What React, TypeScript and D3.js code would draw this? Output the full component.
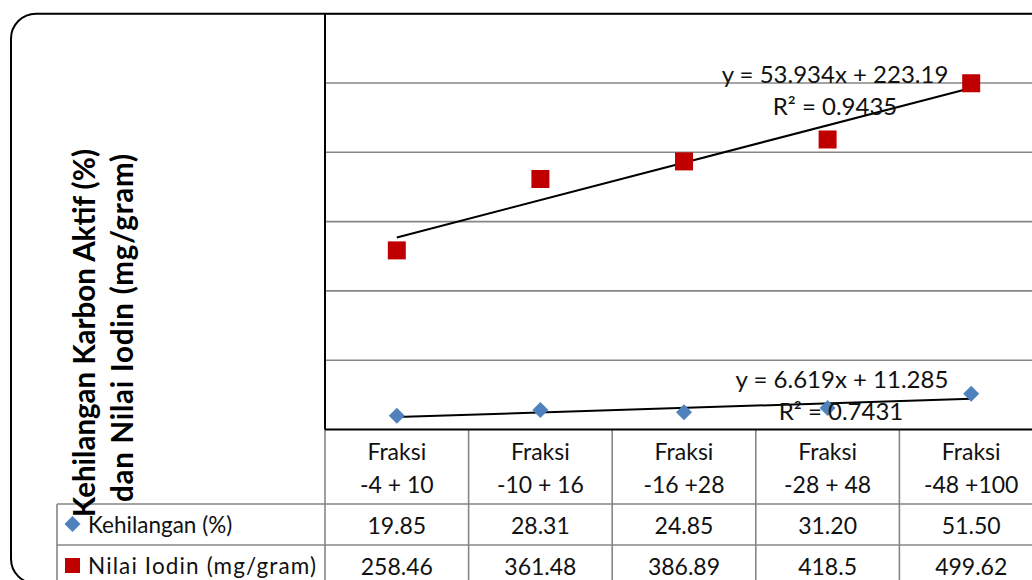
import React from "react";
import * as d3 from "d3";

const categoryTop = ["Fraksi", "Fraksi", "Fraksi", "Fraksi", "Fraksi"];
const categoryBottom = ["-4 + 10", "-10 + 16", "-16 +28", "-28 + 48", "-48 +100"];
const kehilangan = [19.85, 28.31, 24.85, 31.2, 51.5];
const kehilanganLabels = ["19.85", "28.31", "24.85", "31.20", "51.50"];
const iodin = [258.46, 361.48, 386.89, 418.5, 499.62];
const iodinLabels = ["258.46", "361.48", "386.89", "418.5", "499.62"];
const seriesNames = ["Kehilangan (%)", "Nilai Iodin (mg/gram)"];
const yTicks = [0, 100, 200, 300, 400, 500, 600];
const titleLines = ["Kehilangan Karbon Aktif (%)", "dan Nilai Iodin (mg/gram)"];

const W = 1032;
const H = 580;
const FONT = "Lato, 'Open Sans', sans-serif";

function regress(vals: number[]) {
  const xs = vals.map((_, i) => i + 1);
  const mx = d3.mean(xs) as number;
  const my = d3.mean(vals) as number;
  let num = 0, den = 0;
  xs.forEach((x, i) => {
    num += (x - mx) * (vals[i] - my);
    den += (x - mx) * (x - mx);
  });
  const slope = num / den;
  const intercept = my - slope * mx;
  const ssTot = d3.sum(vals, (v) => (v - my) ** 2);
  const ssRes = d3.sum(vals, (v, i) => (v - (slope * xs[i] + intercept)) ** 2);
  return { slope, intercept, r2: 1 - ssRes / ssTot };
}

const diamondPath = (r: number) => `M0,${-r}L${r},0L0,${r}L${-r},0Z`;

export default function App() {
  const plotLeft = 325;
  const band = 143.6;
  const x = d3
    .scaleBand<string>()
    .domain(categoryBottom)
    .range([plotLeft, plotLeft + band * categoryBottom.length])
    .padding(0);
  const y = d3.scaleLinear().domain([0, 600]).range([429.5, 13.7]);
  const cx = (i: number) => (x(categoryBottom[i]) as number) + x.bandwidth() / 2;

  const rI = regress(iodin);
  const rK = regress(kehilangan);
  const trendLine = (r: { slope: number; intercept: number }) =>
    d3.line<number>()
      .x((d) => cx(d - 1))
      .y((d) => y(r.slope * d + r.intercept))([1, 5]) as string;

  const headerTop = y(0);
  const row1Top = 504;
  const row2Top = 545;
  const legendLeft = 57;
  const gridColor = "#868686";
  const colEdges = categoryBottom.map((c) => x(c) as number).concat([x.range()[1]]);

  return (
    <svg
      width={W}
      height={H}
      style={{ position: "absolute", left: 0, top: 0, background: "#fff" }}
      fontFamily={FONT}
    >
      {/* gridlines */}
      {yTicks.slice(1).map((t) => (
        <line key={t} x1={plotLeft} x2={W + 20} y1={y(t)} y2={y(t)} stroke={gridColor} strokeWidth={1.6} />
      ))}

      {/* table lines */}
      {colEdges.slice(1).map((e, i) => (
        <line key={"c" + i} x1={e} x2={e} y1={headerTop} y2={H + 10} stroke={gridColor} strokeWidth={1.6} />
      ))}
      <line x1={plotLeft} x2={plotLeft} y1={headerTop} y2={H + 10} stroke={gridColor} strokeWidth={1.6} />
      <line x1={legendLeft} x2={W + 20} y1={row1Top} y2={row1Top} stroke={gridColor} strokeWidth={1.6} />
      <line x1={legendLeft} x2={W + 20} y1={row2Top} y2={row2Top} stroke={gridColor} strokeWidth={1.6} />
      <line x1={legendLeft} x2={legendLeft} y1={row1Top} y2={H + 10} stroke={gridColor} strokeWidth={1.6} />

      {/* axes */}
      <line x1={plotLeft} x2={plotLeft} y1={y(600)} y2={y(0)} stroke="#000" strokeWidth={2} />
      <line x1={plotLeft} x2={W + 20} y1={y(0)} y2={y(0)} stroke="#000" strokeWidth={2} />

      {/* outer frame */}
      <rect x={11} y={13.7} width={1060} height={570} rx={25} fill="none" stroke="#000" strokeWidth={2} />

      {/* category header */}
      {categoryBottom.map((c, i) => (
        <g key={c} textAnchor="middle" fontSize={23} fill="#111">
          <text x={cx(i)} y={460}>{categoryTop[i]}</text>
          <text x={cx(i)} y={493}>{c}</text>
          <text x={cx(i)} y={534}>{kehilanganLabels[i]}</text>
          <text x={cx(i)} y={575}>{iodinLabels[i]}</text>
        </g>
      ))}

      {/* trendlines */}
      <path d={trendLine(rI)} stroke="#000" strokeWidth={2} fill="none" />
      <path d={trendLine(rK)} stroke="#000" strokeWidth={2} fill="none" />

      {/* markers */}
      {iodin.map((v, i) => (
        <rect key={"r" + i} x={cx(i) - 9} y={y(v) - 9} width={18} height={18} fill="#C00000" />
      ))}
      {kehilangan.map((v, i) => (
        <path key={"k" + i} d={diamondPath(8)} transform={`translate(${cx(i)},${y(v)})`} fill="#4F81BD" />
      ))}

      {/* trend labels */}
      <g textAnchor="middle" fontSize={24} fill="#111">
        <text x={835} y={83}>{`y = ${rI.slope.toFixed(3)}x + ${rI.intercept.toFixed(2)}`}</text>
        <text x={835} y={115}>{`R² = ${rI.r2.toFixed(4)}`}</text>
        <text x={842} y={388}>{`y = ${rK.slope.toFixed(3)}x + ${rK.intercept.toFixed(3)}`}</text>
        <text x={841} y={420}>{`R² = ${rK.r2.toFixed(4)}`}</text>
      </g>

      {/* axis title */}
      <g fontSize={29.5} fontWeight="bold" textAnchor="middle" fill="#000">
        <text transform={`translate(95,333) rotate(-90)`} textLength={368} lengthAdjust="spacing">{titleLines[0]}</text>
        <text transform={`translate(133,328) rotate(-90)`} textLength={348} lengthAdjust="spacing">{titleLines[1]}</text>
      </g>

      {/* legend */}
      <path d={diamondPath(8)} transform={`translate(72.5,524)`} fill="#4F81BD" />
      <text x={88} y={533} fontSize={22.5} fill="#111">{seriesNames[0]}</text>
      <rect x={65} y={558} width={15} height={15} fill="#C00000" />
      <text x={88} y={574} fontSize={22.5} fill="#111" textLength={228} lengthAdjust="spacing">{seriesNames[1]}</text>
    </svg>
  );
}
